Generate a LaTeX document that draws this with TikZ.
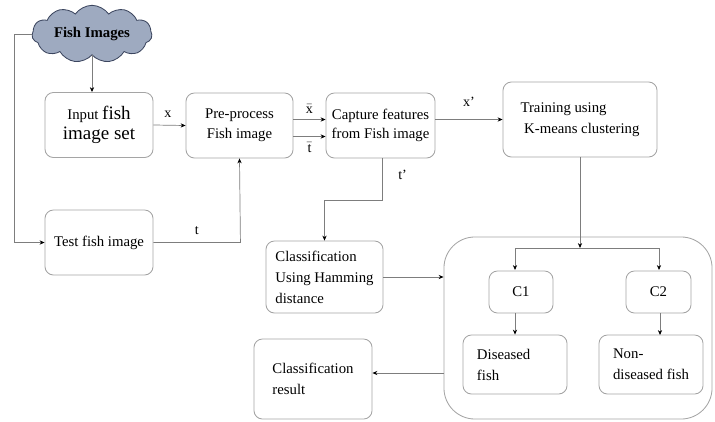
\documentclass[tikz,border=0pt]{standalone}
\usepackage{fontspec}
\setmainfont{Liberation Serif}
\usepackage{tikz}
\usetikzlibrary{arrows.meta,shapes.symbols,calc}
\definecolor{boxgray}{RGB}{165,165,165}
\definecolor{linegray}{RGB}{125,125,125}
\definecolor{cloudfill}{RGB}{158,170,192}
\definecolor{cloudline}{RGB}{60,70,95}
\tikzset{
  box/.style={draw=boxgray,rounded corners=6pt,line width=0.6pt,align=center,
    font=\fontsize{10.5}{14}\selectfont},
  lbox/.style={box,align=left,font=\fontsize{10.5}{15}\selectfont},
  line/.style={draw=linegray,line width=0.5pt},
  arr/.style={line,-{Stealth[length=3.5pt,width=3pt,black]}},
  lab/.style={font=\fontsize{10}{12}\selectfont}
}
\begin{document}
\begin{tikzpicture}[x=0.025cm,y=-0.025cm]
\useasboundingbox (0,0) rectangle (715,421);
%\draw (0,0) grid (715,421);
\node[draw=boxgray,rounded corners=22pt,line width=0.6pt,minimum width=6.7cm,minimum height=4.55cm] (grp) at (578,328) {};
\node[cloud,cloud puffs=11,cloud puff arc=110,aspect=2.6,draw=cloudline,fill=cloudfill,line width=0.6pt,
  minimum width=3cm,minimum height=1.15cm,inner sep=1pt,font=\bfseries\fontsize{10.5}{12}\selectfont] (img) at (92,34) {Fish Images};
\node[box,minimum width=2.7cm,minimum height=1.625cm] (inp) at (99,125)
  {Input {\fontsize{13.5}{16}\selectfont fish}\\{\fontsize{13.5}{16}\selectfont image set}};
\node[box,minimum width=2.675cm,minimum height=1.625cm] (prep) at (239.5,125.5) {Pre-process\\Fish image};
\node[box,minimum width=2.725cm,minimum height=1.625cm,inner sep=1pt] (feat) at (380.5,125.5) {Capture features\\from Fish image};
\node[lbox,minimum width=3.85cm,minimum height=1.875cm] (train) at (580,119.5) {Training using\\\ K-means clustering};
\node[box,minimum width=2.7cm,minimum height=1.625cm] (test) at (99,242.5) {Test fish image};
\node[lbox,minimum width=2.925cm,minimum height=1.8cm,inner sep=2pt] (hamm) at (324.5,277) {Classification\\Using Hamming\\distance};
\node[lbox,minimum width=2.95cm,minimum height=2cm] (res) at (313,379) {Classification\\result};
\node[box,minimum width=1.6cm,minimum height=1.05cm] (c1) at (521,292) {C1};
\node[box,minimum width=1.625cm,minimum height=1.05cm] (c2) at (658.5,292) {C2};
\node[lbox,text width=1.9cm,minimum width=2.6cm,minimum height=1.475cm] (sick) at (515,364.5) {Diseased\\fish};
\node[lbox,minimum width=2.6cm,minimum height=1.475cm] (fine) at (651,364.5) {Non-\\diseased fish};
% connectors
\coordinate (br) at (580,248);
\draw[arr] (img.south) -- (img.south |- inp.north);
\draw[arr] (img.west) -- ++(-17,0) |- (test.west);
\draw[arr] (inp.east) -- node[lab,above,pos=0.45,yshift=2pt]{x} (prep.west);
\draw[arr] ($(prep.east)+(0,-6)$) -- node[lab,above,yshift=1pt]{$\bar{\mathrm{x}}$} ($(feat.west)+(0,-6)$);
\draw[arr] ($(prep.east)+(0,11)$) -- node[lab,below,yshift=-1pt]{$\bar{\mathrm{t}}$} ($(feat.west)+(0,11)$);
\draw[arr] (test.east) -- node[lab,above,pos=0.5,yshift=2pt]{t} ++(87,0) -- (prep.south);
\draw[arr] (feat.east |- train.west) -- node[lab,above,yshift=6pt]{x'} (train.west);
\draw[arr] ($(feat.south)+(1.5,0)$) -- node[lab,right,pos=0.4,xshift=8pt]{t'} ++(0,42) -| (hamm.north);
\draw[arr] (hamm.east) -- (hamm.east -| grp.west);
\draw[arr] (train.south) -- (br);
\draw[arr] (br) -| (515,270);
\draw[arr] (br) -| (659,270);
\draw[arr] (c1.south -| sick.north) -- (sick.north);
\draw[arr] (c2.south -| 660,0) -- (660,335);
\draw[arr] (grp.west |- 0,373) -- (res.east |- 0,373);
\end{tikzpicture}
\end{document}
